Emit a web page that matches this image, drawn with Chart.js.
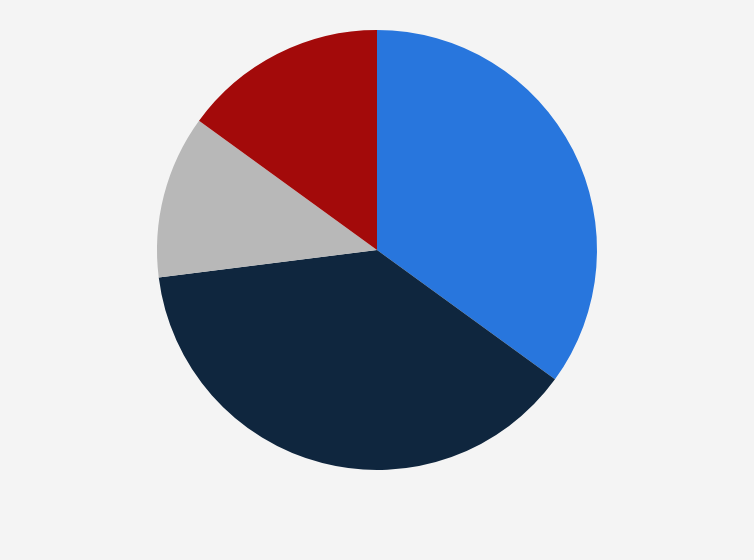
<!DOCTYPE html>
<html>
<head>
<meta charset="utf-8">
<script src="https://cdn.jsdelivr.net/npm/chart.js@4"></script>
<style>
  html, body { margin: 0; padding: 0; background: #f4f4f4; }
  #wrap { width: 754px; height: 560px; position: relative; }
</style>
</head>
<body>
<div id="wrap"><canvas id="pie-chart"></canvas></div>
<script>
// slices clockwise from 12 o'clock, shares in percent
const labels = ['Segment A', 'Segment B', 'Segment C', 'Segment D'];
const shares = [35, 38, 12, 15];
const sliceColors = ['#2876dd', '#0f263e', '#b8b8b8', '#a30a0a'];

const ctx = document.getElementById('pie-chart').getContext('2d');
new Chart(ctx, {
  type: 'pie',
  data: {
    labels: labels,
    datasets: [{
      data: shares,
      backgroundColor: sliceColors,
      borderWidth: 0
    }]
  },
  options: {
    responsive: true,
    maintainAspectRatio: false,
    animation: false,
    layout: { padding: { top: 30, bottom: 90 } },
    plugins: {
      legend: { display: false },
      tooltip: { enabled: false }
    }
  }
});
</script>
</body>
</html>
